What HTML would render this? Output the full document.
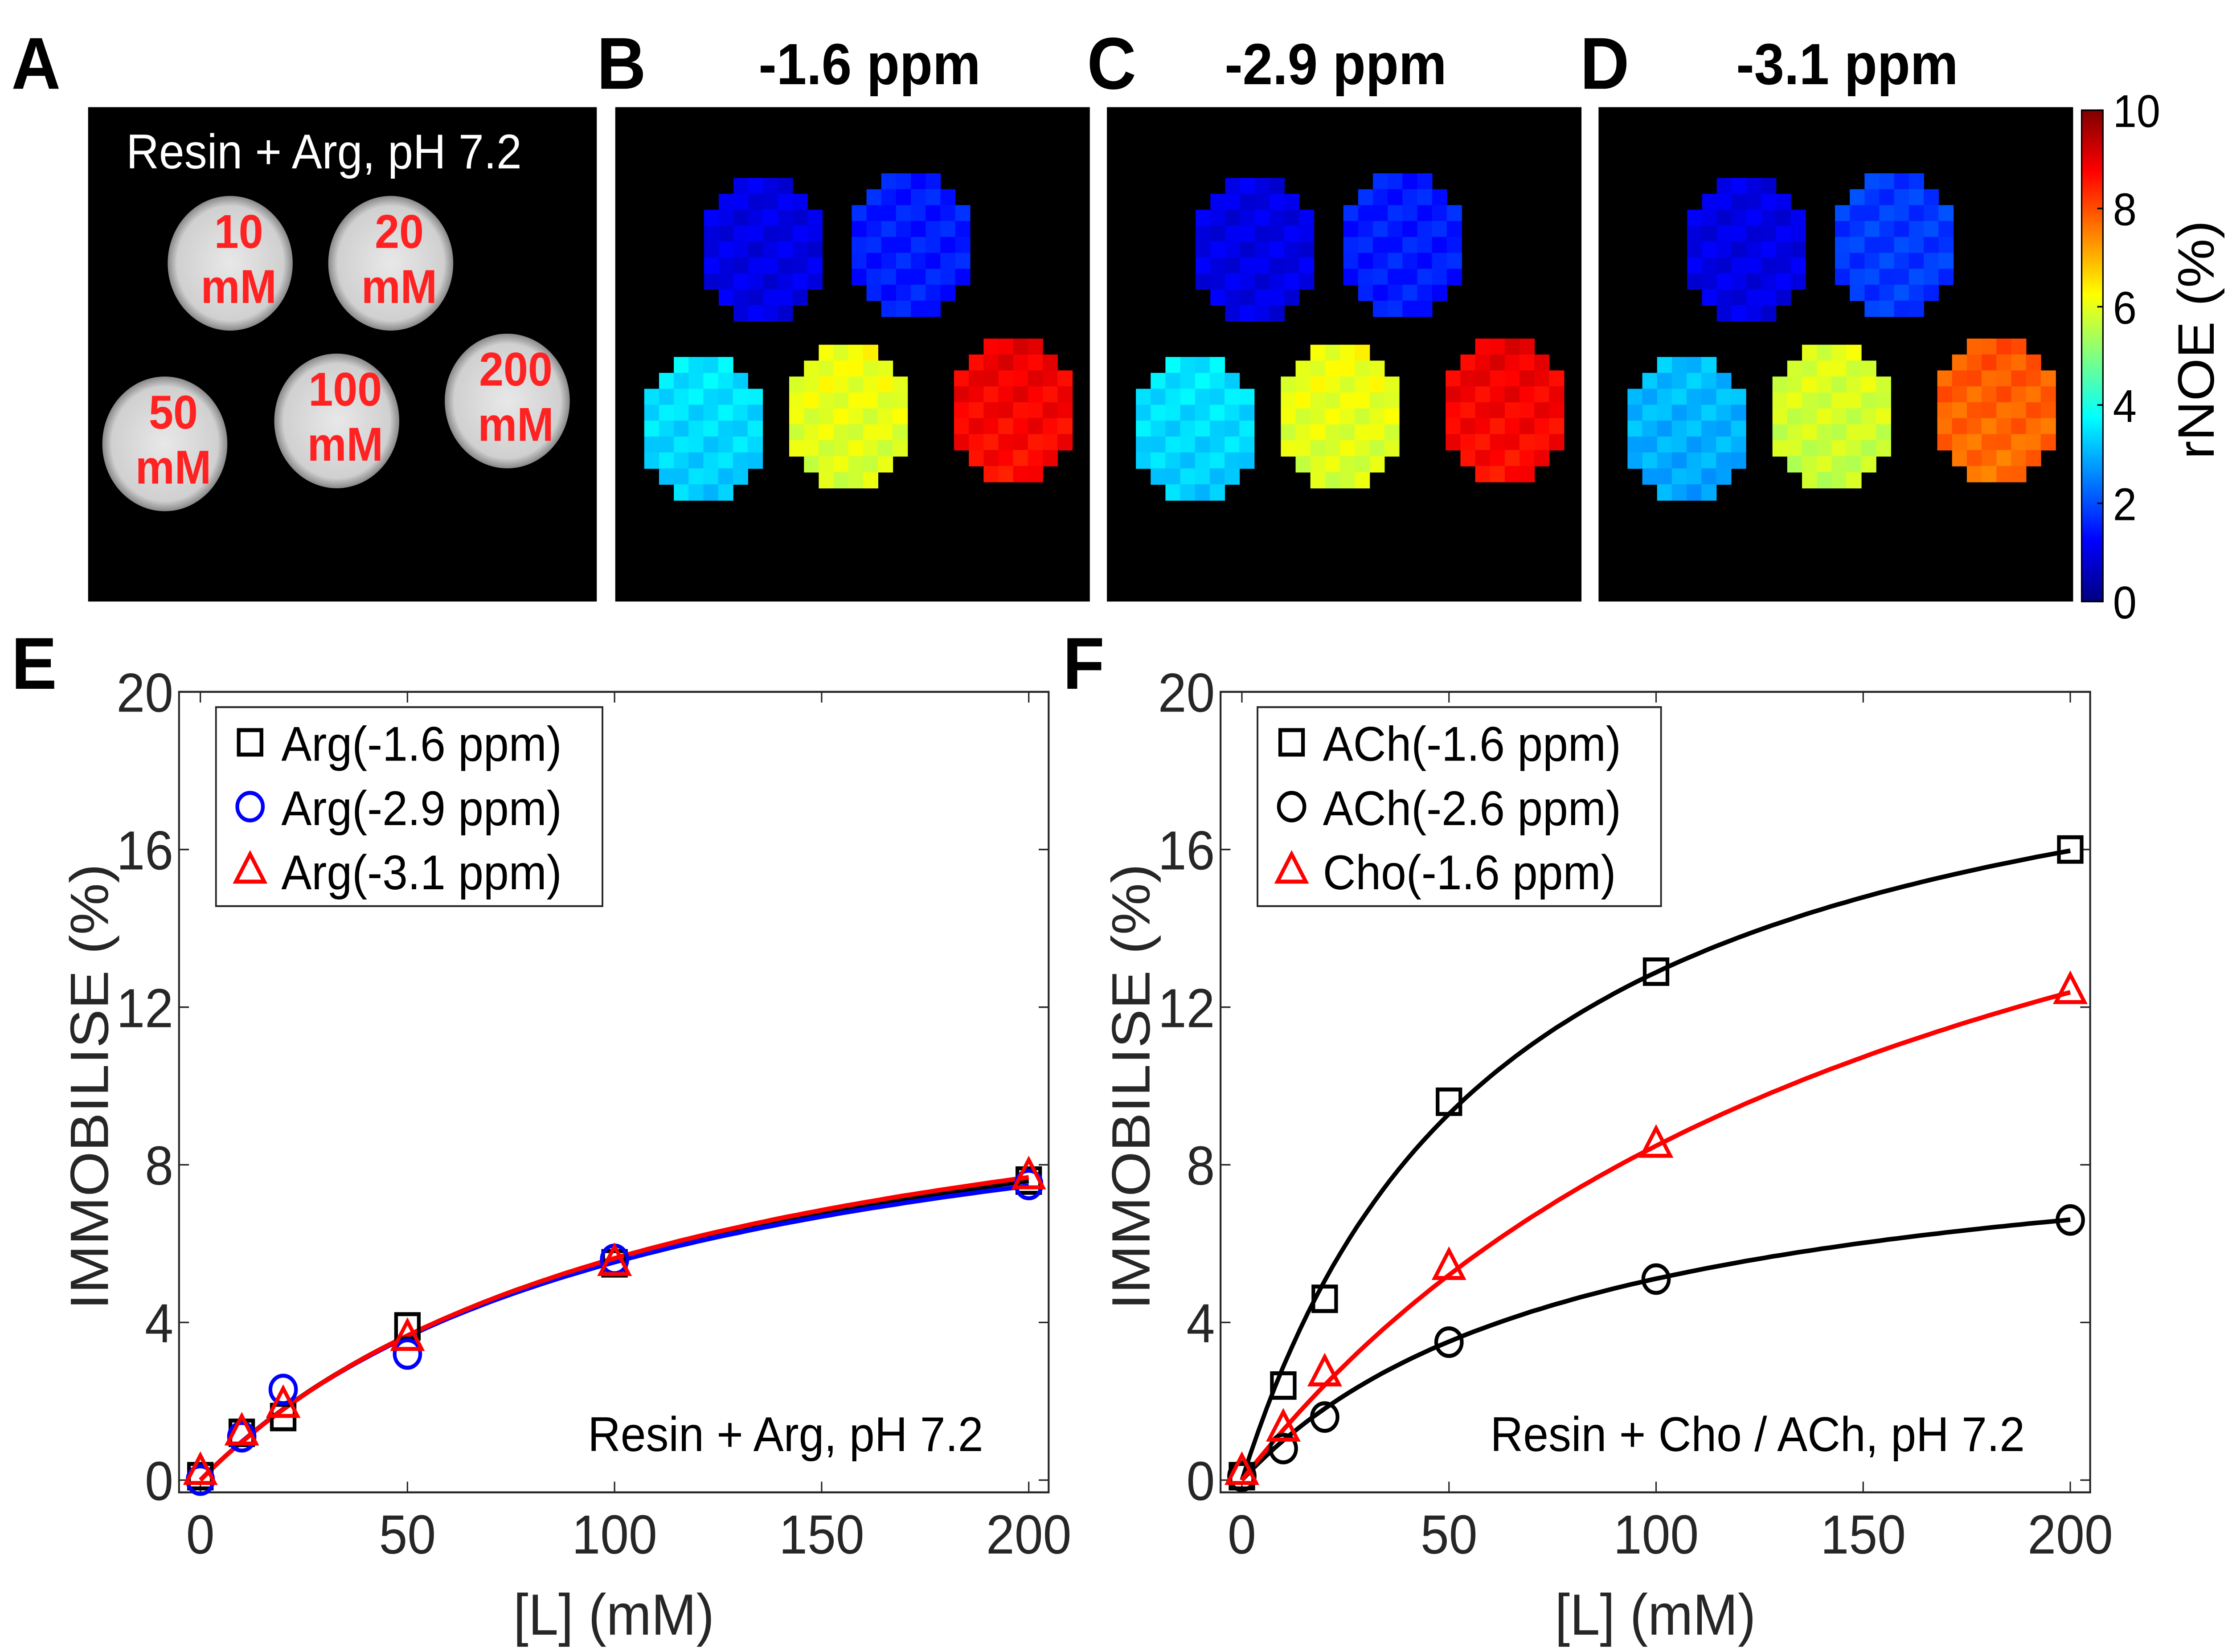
<!DOCTYPE html>
<html><head><meta charset="utf-8"><style>
html,body{margin:0;padding:0;background:#fff;overflow:hidden;width:100%;height:100%}
svg{display:block;position:fixed;left:0;top:0;width:100vw;height:100vh}
text{font-family:"Liberation Sans",sans-serif}
</style></head><body>
<svg id="fig" viewBox="0 0 1568 1079.3" preserveAspectRatio="none" xmlns="http://www.w3.org/2000/svg">
<rect width="1568" height="1080" fill="#fff"/>
<g id="maps"></g>
<g id="plots"></g>
</svg>
<script>
// ---- data ----
const concLabels = ["10","20","50","100","200"];
const mapB = [1.0, 1.5, 3.4, 6.0, 8.8];
const mapC = [1.0, 1.5, 3.4, 6.0, 8.8];
const mapD = [1.0, 1.8, 3.0, 5.8, 7.8];
const cbTicks = [0,2,4,6,8,10];
const xTicks = [0,50,100,150,200];
const yTicks = [0,4,8,12,16,20];
const xConc = [0,10,20,50,100,200];
const argSq = [0.1,1.2,1.6,3.9,5.5,7.6];
const argCi = [0.0,1.1,2.3,3.2,5.6,7.5];
const argTr = [0.2,1.2,1.9,3.6,5.5,7.7];
const achSq = [0.1,2.4,4.6,9.6,12.9,16.0];
const achCi = [0.1,0.8,1.6,3.5,5.1,6.6];
const choTr = [0.2,1.3,2.7,5.4,8.5,12.4];
// fit params [Bmax, Kd]
const fitArgSq = [11.8,111];
const fitArgCi = [11.5,108];
const fitArgTr = [12.1,115];
const fitAchSq = [21.0,63];
const fitAchCi = [9.35,83];
const fitChoTr = [22.9,170];

const NS="http://www.w3.org/2000/svg";
function mk(tag,attrs,parent){const e=document.createElementNS(NS,tag);for(const k in attrs)e.setAttribute(k,attrs[k]);parent.appendChild(e);return e;}
function txt(s,attrs,parent){const e=mk('text',attrs,parent);e.textContent=s;return e;}
function jet(v){v=Math.max(0,Math.min(1,v));
 const r=Math.max(0,Math.min(1,Math.min(4*v-1.5,-4*v+4.5)));
 const g=Math.max(0,Math.min(1,Math.min(4*v-0.5,-4*v+3.5)));
 const b=Math.max(0,Math.min(1,Math.min(4*v+0.5,-4*v+2.5)));
 return `rgb(${Math.round(r*255)},${Math.round(g*255)},${Math.round(b*255)})`;}
const maps=document.getElementById('maps');
const plots=document.getElementById('plots');

[["A",8,58],["B",420,58],["C",765,58],["D",1112,58],["E",8,450],["F",748,450]].forEach(([l,x,y])=>{
 const t=txt(l,{x:x,y:y,'font-size':48,'font-weight':'bold',fill:'#000'},plots);
 
 
});
[["-1.6 ppm",612],["-2.9 ppm",940],["-3.1 ppm",1300]].forEach(([s,x],i)=>{
 const t=txt(s,{x:x,y:55,'font-size':38,'font-weight':'bold','text-anchor':'middle'},plots);
 
 
});

// Panel A
const pa=mk('g',{},maps);


mk('rect',{x:62,y:70,width:358,height:323,fill:'#000'},pa);
const dg=mk('defs',{},pa);
const rg=mk('radialGradient',{id:'gw'},dg);
mk('stop',{offset:'0','stop-color':'#e8e8e8'},rg);
mk('stop',{offset:'0.85','stop-color':'#d0d0d0'},rg);
mk('stop',{offset:'1','stop-color':'#888'},rg);
const aCent=[[162,172],[275,172],[116,290],[237,275],[357,262]];
aCent.forEach(([cx,cy],i)=>{
 const c=mk('circle',{cx:cx,cy:cy,r:44,fill:'url(#gw)'},pa);
 
 
 txt(concLabels[i],{x:cx+6,y:cy-10,'font-size':31,'font-weight':'bold',fill:'#f22','text-anchor':'middle'},pa);
 txt('mM',{x:cx+6,y:cy+26,'font-size':31,'font-weight':'bold',fill:'#f22','text-anchor':'middle'},pa);
});
const at=txt('Resin + Arg, pH 7.2',{x:228,y:110,'font-size':32,fill:'#fff','text-anchor':'middle'},pa);



const blk=10.4;
function drawMap(x0,vals,name){
 const g=mk('g',{},maps);
 
 
 mk('rect',{x:x0,y:70,width:334,height:323,fill:'#000'},g);
 const cents=[[104,93],[208,90],[62,210],[164,202],[280,198]];
 cents.forEach(([cx,cy],k)=>{
  for(let i=-4;i<4;i++)for(let j=-4;j<5;j++){
   const dx=i+0.5,dy=j;
   if(dx*dx/16+dy*dy/20>1.0)continue;
   const v=vals[k]+0.25*Math.sin(i*1.7+j*2.3+k)+0.15*(j/4)*(k>=2?-1:0);
   mk('rect',{x:x0+cx+i*blk,y:70+cy+(j-0.5)*blk,width:blk+0.3,height:blk+0.3,fill:jet(v/10)},g);
  }
 });
}
drawMap(433,mapB,'map-b-1p6ppm');
drawMap(779,mapC,'map-c-2p9ppm');
drawMap(1125,mapD,'map-d-3p1ppm');

const cb=mk('g',{},maps);


const lg=mk('linearGradient',{id:'jetg',x1:0,y1:1,x2:0,y2:0},mk('defs',{},cb));
for(let i=0;i<=16;i++)mk('stop',{offset:i/16,'stop-color':jet(i/16)},lg);
const cbTop=72,cbBot=393;
mk('rect',{x:1465,y:cbTop,width:15,height:cbBot-cbTop,fill:'url(#jetg)',stroke:'#000','stroke-width':1},cb);
cbTicks.forEach(v=>{
 const y=cbBot-(cbBot-cbTop)*v/10;
 mk('line',{x1:1476,x2:1480,y1:y,y2:y,stroke:'#000'},cb);
 txt(String(v),{x:1487,y:y+11,'font-size':30},cb);
});
const cbl=txt('rNOE (%)',{x:0,y:0,'font-size':36,'text-anchor':'middle',transform:'translate(1558,222) rotate(-90)'},cb);



function plot(cfg){
 const g=mk('g',{},plots);
 
 
 const L=cfg.left,R=cfg.left+612,T=452,B=975;
 const xs=v=>cfg.x0+(v)*2.915;
 const ys=v=>967-v*25.75;
 mk('rect',{x:L,y:T,width:R-L,height:B-T,fill:'#fff',stroke:'#262626','stroke-width':1.3},g);
 xTicks.forEach(v=>{const x=xs(v);
  mk('line',{x1:x,x2:x,y1:B,y2:B-7,stroke:'#262626'},g);
  mk('line',{x1:x,x2:x,y1:T,y2:T+7,stroke:'#262626'},g);
  txt(String(v),{x:x,y:1015,'font-size':36,'text-anchor':'middle',fill:'#262626'},g);});
 yTicks.forEach(v=>{const y=ys(v);
  mk('line',{x1:L,x2:L+7,y1:y,y2:y,stroke:'#262626'},g);
  mk('line',{x1:R,x2:R-7,y1:y,y2:y,stroke:'#262626'},g);
  txt(String(v),{x:L-4,y:y+13,'font-size':36,'text-anchor':'end',fill:'#262626'},g);});
 const xl=txt('[L] (mM)',{x:(L+R)/2,y:1068,'font-size':38,'text-anchor':'middle',fill:'#262626'},g);
 
 
 const yl=txt('IMMOBILISE (%)',{x:0,y:0,'font-size':38,'text-anchor':'middle',fill:'#262626',transform:`translate(${L-50},710) rotate(-90)`},g);
 
 
 cfg.series.forEach(s=>{
  let d='';
  for(let x=0;x<=200;x+=2){const y=s.fit[0]*x/(s.fit[1]+x);d+=(x?'L':'M')+xs(x).toFixed(1)+','+ys(y).toFixed(1);}
  const p=mk('path',{d:d,fill:'none',stroke:s.lc,'stroke-width':3},g);
  
  
 });
 cfg.series.forEach(s=>{
  xConc.forEach((xv,i)=>{
   const m=marker(s.m,xs(xv),ys(s.y[i]),s.c,g);
   
   
  });
 });
 const lgx=cfg.left+26;
 const lb=mk('rect',{x:lgx,y:462,width:cfg.lw,height:130,fill:'#fff',stroke:'#262626','stroke-width':1.2},g);
 
 
 cfg.series.forEach((s,i)=>{
  const y=485+i*42;
  marker(s.m,lgx+24,y,s.c,g);
  const t=txt(s.label,{x:lgx+46,y:y+12,'font-size':32,fill:'#000'},g);
  
  
 });
 const an=txt(cfg.note,{x:R-46,y:948,'font-size':32,'text-anchor':'end',fill:'#000'},g);
 
 
}
function marker(type,x,y,c,g){
 if(type==='s')return mk('rect',{x:x-8,y:y-8,width:16,height:16,fill:'none',stroke:c,'stroke-width':2.6},g);
 if(type==='o')return mk('circle',{cx:x,cy:y,r:9,fill:'none',stroke:c,'stroke-width':2.6},g);
 return mk('path',{d:`M${x},${y-11}L${x+10},${y+7}L${x-10},${y+7}Z`,fill:'none',stroke:c,'stroke-width':2.6},g);
}
plot({name:'panel-e-arg',left:126,x0:141,lw:272,note:'Resin + Arg, pH 7.2',series:[
 {id:'arg-1p6',m:'s',c:'#000',lc:'#000',y:argSq,fit:fitArgSq,label:'Arg(-1.6 ppm)'},
 {id:'arg-2p9',m:'o',c:'#00f',lc:'#00f',y:argCi,fit:fitArgCi,label:'Arg(-2.9 ppm)'},
 {id:'arg-3p1',m:'t',c:'#f00',lc:'#f00',y:argTr,fit:fitArgTr,label:'Arg(-3.1 ppm)'}]});
plot({name:'panel-f-cho-ach',left:859,x0:874,lw:284,note:'Resin + Cho / ACh, pH 7.2',series:[
 {id:'ach-1p6',m:'s',c:'#000',lc:'#000',y:achSq,fit:fitAchSq,label:'ACh(-1.6 ppm)'},
 {id:'ach-2p6',m:'o',c:'#000',lc:'#000',y:achCi,fit:fitAchCi,label:'ACh(-2.6 ppm)'},
 {id:'cho-1p6',m:'t',c:'#f00',lc:'#f00',y:choTr,fit:fitChoTr,label:'Cho(-1.6 ppm)'}]});
</script>
</body></html>
